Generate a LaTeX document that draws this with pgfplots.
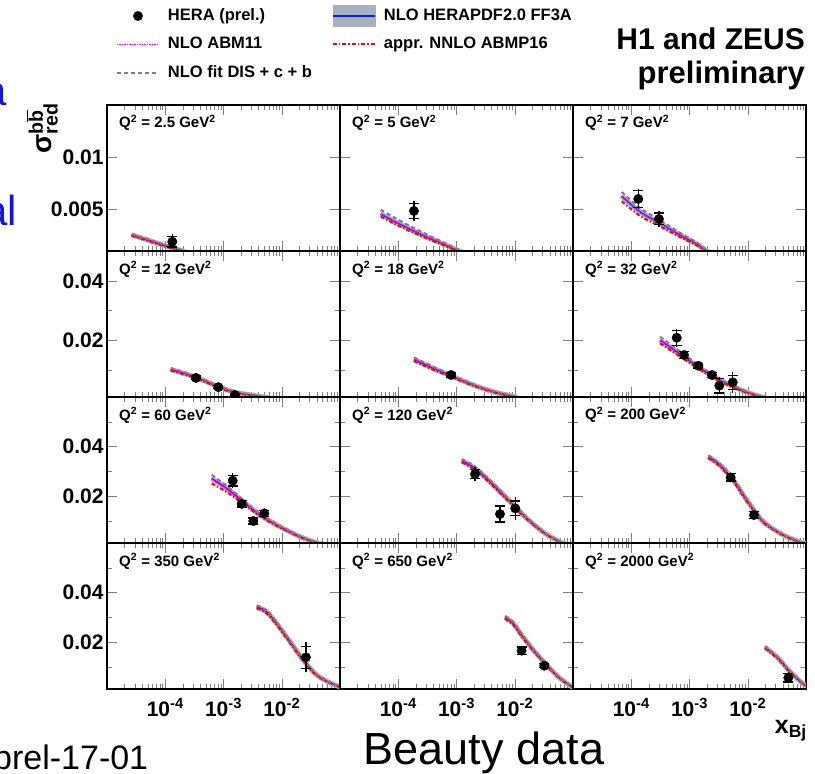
\documentclass[border=0pt]{standalone}
\usepackage{pgfplots}
\usepackage{pgfplotstable}
\pgfplotsset{compat=1.18}
\usepackage{fontspec}
\setmainfont{Liberation Sans}

\definecolor{bandgray}{RGB}{165,178,192}
\definecolor{herblue}{RGB}{20,20,255}
\definecolor{abmmag}{RGB}{255,0,255}
\definecolor{abmpred}{RGB}{255,0,0}
\definecolor{disbrown}{RGB}{150,115,100}
\definecolor{txtblue}{RGB}{20,20,220}

% theory: x, HERAPDF2.0 FF3A, ABM11, ABMP16, fit DIS+c+b
\pgfplotstableread{
x her abm abmp dis
2.65e-5 0.00255 0.00252 0.00247 0.00263
4.0e-5 0.00223 0.00220 0.00215 0.00231
6.4e-5 0.00186 0.00183 0.00178 0.00194
1.0e-4 0.00151 0.00148 0.00143 0.00159
1.6e-4 0.00116 0.00113 0.00108 0.00124
2.5e-4 0.00080 0.00077 0.00072 0.00088
}\thA
\pgfplotstableread{
x her abm abmp dis
5.0e-5 0.00455 0.00450 0.00429 0.00495
1.0e-4 0.00366 0.00362 0.00343 0.00400
1.81e-4 0.00295 0.00292 0.00276 0.00324
3.5e-4 0.00222 0.00220 0.00207 0.00244
6.36e-4 0.00160 0.00158 0.00150 0.00176
9.4e-4 0.00116 0.00114 0.00109 0.00128
1.5e-3 0.00075 0.00073 0.00070 0.00084
}\thB
\pgfplotstableread{
x her abm abmp dis
6.85e-5 0.00627 0.00620 0.00577 0.00667
1.41e-4 0.00477 0.00471 0.00437 0.00513
3.12e-4 0.00366 0.00361 0.00336 0.00396
6.87e-4 0.00253 0.00250 0.00233 0.00275
1.33e-3 0.00167 0.00165 0.00155 0.00182
1.85e-3 0.00110 0.00108 0.00102 0.00120
2.6e-3 0.00070 0.00068 0.00064 0.00078
}\thC
\pgfplotstableread{
x her abm abmp dis
1.24e-4 0.01030 0.01020 0.00990 0.01070
3.37e-4 0.00761 0.00753 0.00728 0.00795
8.15e-4 0.00446 0.00440 0.00420 0.00475
1.57e-3 0.00258 0.00254 0.00240 0.00280
3.27e-3 0.00157 0.00154 0.00146 0.00172
4.5e-3 0.00110 0.00108 0.00102 0.00122
6.0e-3 0.00070 0.00068 0.00064 0.00080
}\thD
\pgfplotstableread{
x her abm abmp dis
1.86e-4 0.01365 0.01350 0.01305 0.01425
4.0e-4 0.01063 0.01050 0.01013 0.01113
8.8e-4 0.00781 0.00772 0.00745 0.00816
1.94e-3 0.00503 0.00497 0.00478 0.00528
4.28e-3 0.00278 0.00274 0.00263 0.00295
8.9e-3 0.00130 0.00128 0.00122 0.00140
1.1e-2 0.00085 0.00083 0.00079 0.00093
}\thE
\pgfplotstableread{
x her abm abmp dis
3.12e-4 0.02010 0.01985 0.01900 0.02120
6.03e-4 0.01620 0.01600 0.01530 0.01710
1.16e-3 0.01230 0.01215 0.01165 0.01300
2.57e-3 0.00781 0.00771 0.00740 0.00830
5.65e-3 0.00446 0.00440 0.00422 0.00476
1.0e-2 0.00250 0.00246 0.00236 0.00270
1.62e-2 0.00120 0.00118 0.00112 0.00132
2.0e-2 0.00070 0.00068 0.00064 0.00078
}\thF
\pgfplotstableread{
x her abm abmp dis
6.26e-4 0.0271 0.0268 0.0251 0.0285
1.13e-3 0.0231 0.0228 0.0216 0.0242
2.19e-3 0.0177 0.0175 0.0169 0.0184
4.24e-3 0.0123 0.0121 0.0118 0.0128
9.3e-3 0.00759 0.00748 0.00730 0.00790
2.06e-2 0.00355 0.00349 0.00340 0.00375
3.98e-2 0.00110 0.00107 0.00104 0.00120
5.0e-2 0.00050 0.00048 0.00046 0.00058
}\thG
\pgfplotstableread{
x her abm abmp dis
1.23e-3 0.0343 0.0340 0.0336 0.0349
2.08e-3 0.0312 0.0309 0.0305 0.0318
3.76e-3 0.0258 0.0255 0.0252 0.0264
7.28e-3 0.0191 0.0189 0.0186 0.0196
1.6e-2 0.0110 0.0109 0.0107 0.0114
3.3e-2 0.00492 0.00485 0.00475 0.00515
6.4e-2 0.00110 0.00107 0.00104 0.00120
8.0e-2 0.00050 0.00048 0.00046 0.00058
}\thH
\pgfplotstableread{
x her abm abmp dis
2.1e-3 0.0359 0.0356 0.0353 0.0364
3.34e-3 0.0325 0.0322 0.0319 0.0330
5.65e-3 0.0265 0.0262 0.0259 0.0270
9.6e-3 0.0184 0.0182 0.0179 0.0188
1.85e-2 0.0096 0.0095 0.0093 0.0099
4.07e-2 0.00423 0.00418 0.00408 0.00440
8.4e-2 0.00110 0.00107 0.00104 0.00120
1.0e-1 0.00070 0.00068 0.00065 0.00078
}\thI
\pgfplotstableread{
x her abm abmp dis
3.72e-3 0.0343 0.0340 0.0336 0.0348
5.52e-3 0.0322 0.0319 0.0315 0.0327
8.18e-3 0.0275 0.0272 0.0269 0.0280
1.39e-2 0.0201 0.0199 0.0196 0.0205
2.34e-2 0.0127 0.0126 0.0123 0.0130
3.98e-2 0.00666 0.00658 0.00640 0.00690
6.73e-2 0.00355 0.00350 0.00340 0.00370
1.0e-1 0.00185 0.00182 0.00176 0.00195
}\thJ
\pgfplotstableread{
x her abm abmp dis
6.81e-3 0.0300 0.0297 0.0294 0.0305
9.44e-3 0.0275 0.0272 0.0269 0.0280
1.31e-2 0.0228 0.0226 0.0223 0.0232
2.08e-2 0.0168 0.0166 0.0164 0.0171
3.53e-2 0.0107 0.0106 0.0104 0.0110
5.98e-2 0.00532 0.00525 0.00510 0.00555
1.0e-1 0.00170 0.00167 0.00160 0.00180
}\thK
\pgfplotstableread{
x her abm abmp dis
1.98e-2 0.0179 0.0177 0.0175 0.0183
3.35e-2 0.0134 0.0132 0.0130 0.0137
5.31e-2 0.0080 0.0079 0.0077 0.0083
9.0e-2 0.00302 0.00297 0.00288 0.00320
1.0e-1 0.00250 0.00246 0.00238 0.00265
}\thL

% data: x, y, stat, total
\pgfplotstableread{
x y stat tot
1.32e-4 0.00189 0.0005 0.0007
}\meA
\pgfplotstableread{
x y stat tot
1.86e-4 0.00484 0.0007 0.0010
}\meB
\pgfplotstableread{
x y stat tot
1.32e-4 0.00599 0.0008 0.0010
2.99e-4 0.00407 0.00056 0.0008
}\meC
\pgfplotstableread{
x y stat tot
3.37e-4 0.0074 0.0006 0.0008
8.15e-4 0.0043 0.0005 0.0007
1.57e-3 0.00167 0.0005 0.0007
}\meD
\pgfplotstableread{
x y stat tot
8.06e-4 0.00838 0.0007 0.0009
}\meE
\pgfplotstableread{
x y stat tot
6.03e-4 0.0209 0.0025 0.0030
8.06e-4 0.0151 0.0012 0.0015
1.42e-3 0.0115 0.0008 0.0010
2.43e-3 0.00838 0.0008 0.0010
3.25e-3 0.0048 0.0025 0.0028
5.52e-3 0.00593 0.0024 0.0036
}\meF
\pgfplotstableread{
x y stat tot
1.44e-3 0.0262 0.0022 0.0030
2.05e-3 0.0168 0.0013 0.0016
3.25e-3 0.00989 0.0012 0.0014
5.02e-3 0.0130 0.0012 0.0014
}\meG
\pgfplotstableread{
x y stat tot
2.08e-3 0.0289 0.0019 0.0029
5.58e-3 0.0127 0.0032 0.0032
1.02e-2 0.0150 0.0030 0.0047
}\meH
\pgfplotstableread{
x y stat tot
5.09e-3 0.0275 0.0015 0.0018
1.28e-2 0.0123 0.0013 0.0015
}\meI
\pgfplotstableread{
x y stat tot
2.6e-2 0.0138 0.0045 0.0060
}\meJ
\pgfplotstableread{
x y stat tot
1.31e-2 0.0165 0.0015 0.0017
3.21e-2 0.0104 0.0008 0.0010
}\meK
\pgfplotstableread{
x y stat tot
4.97e-2 0.00557 0.0018 0.0022
}\meL

% settings shared by all twelve panels
\pgfplotsset{
  scale only axis, width=233pt, height=146pt,
  xmin=1e-5, xmax=1e-1,
  xtick={1e-5,1e-4,1e-3,1e-2,1e-1},
  minor xtick={2e-5,3e-5,4e-5,5e-5,6e-5,7e-5,8e-5,9e-5,
               2e-4,3e-4,4e-4,5e-4,6e-4,7e-4,8e-4,9e-4,
               2e-3,3e-3,4e-3,5e-3,6e-3,7e-3,8e-3,9e-3,
               2e-2,3e-2,4e-2,5e-2,6e-2,7e-2,8e-2,9e-2},
  xticklabels={}, yticklabels={}, scaled y ticks=false,
  tick align=inside, tick pos=both,
  major tick length=10pt, minor tick length=5pt,
  axis line style={line width=1.6pt},
  clip marker paths=true,
  x tick label style={font=\fontsize{21}{21}\selectfont\bfseries, anchor=base, yshift=-27pt},
  y tick label style={font=\fontsize{21}{21}\selectfont\bfseries},
}

\newcommand{\curves}[1]{%
  \addplot[bandgray, line width=5pt, smooth, no marks, forget plot] table[x=x, y=her]{#1};
  \addplot[herblue, line width=1.3pt, smooth, no marks, forget plot] table[x=x, y=her]{#1};
  \addplot[abmmag, line width=1.6pt, dash pattern=on 1.2pt off 1.3pt, smooth, no marks, forget plot] table[x=x, y=abm]{#1};
  \addplot[abmpred, line width=2pt, dash pattern=on 4pt off 2pt on 1.5pt off 2pt, smooth, no marks, forget plot] table[x=x, y=abmp]{#1};
  \addplot[disbrown, line width=2pt, dash pattern=on 4pt off 3pt, smooth, no marks, forget plot] table[x=x, y=dis]{#1};
}
\newcommand{\points}[1]{%
  \addplot[black, forget plot, only marks, mark=none,
    error bars/.cd, y dir=both, y explicit, error mark=none,
    error bar style={line width=1.3pt}]
    table[x=x, y=y, y error=tot]{#1};
  \addplot[black, forget plot, only marks, mark=*, mark size=4.7pt,
    error bars/.cd, y dir=both, y explicit,
    error bar style={line width=1.3pt},
    error mark options={rotate=90, line width=1.3pt, mark size=5pt}]
    table[x=x, y=y, y error=stat]{#1};
}
\newcommand{\qlab}[1]{%
  \node[anchor=base west, inner sep=0pt, font=\fontsize{15}{15}\selectfont\bfseries]
    at (rel axis cs:0.0515,0.8425) {Q\textsuperscript{2} = #1 GeV\textsuperscript{2}};
}

\begin{document}
\begin{tikzpicture}
\useasboundingbox (0,0) rectangle (815pt,-774pt);

% row 1
\begin{axis}[xmode=log, at={(107pt,-105pt)}, anchor=north west,
  ymin=0.001, ymax=0.015, ytick={0.005,0.01}, yticklabels={0.005,0.01},
  legend columns=2, legend cell align=left,
  legend style={at={(0.0386,1.661)}, anchor=north west, draw=none, fill=none,
    inner sep=0pt, outer sep=0pt, row sep=13.5pt,
    font=\fontsize{16.5}{16.5}\selectfont\bfseries,
    nodes={inner sep=0pt, text height=12pt, text depth=3pt},
    /tikz/every odd column/.append style={column sep=8pt},
    /tikz/every even column/.append style={column sep=20pt}}]
\addlegendimage{legend image code/.code={%
  \fill[black] (21pt,0pt) circle[radius=4.7pt];}}
\addlegendentry{HERA (prel.)}
\addlegendimage{legend image code/.code={%
  \fill[bandgray, overlay] (0pt,-10.5pt) rectangle (42pt,10.5pt);
  \draw[herblue, line width=1.3pt] (0pt,0pt) -- (42pt,0pt);}}
\addlegendentry{NLO HERAPDF2.0 FF3A}
\addlegendimage{legend image code/.code={%
  \draw[abmmag, line width=1.6pt, dash pattern=on 1.2pt off 1.3pt] (0pt,0pt) -- (42pt,0pt);}}
\addlegendentry{NLO ABM11}
\addlegendimage{legend image code/.code={%
  \draw[abmpred, line width=2pt, dash pattern=on 4pt off 2pt on 1.5pt off 2pt] (0pt,0pt) -- (42pt,0pt);}}
\addlegendentry{appr. NNLO ABMP16}
\addlegendimage{legend image code/.code={%
  \draw[disbrown, line width=2pt, dash pattern=on 4pt off 3pt] (0pt,0pt) -- (42pt,0pt);}}
\addlegendentry{NLO fit DIS + c + b}
\curves{\thA}
\points{\meA}
\qlab{2.5}
\end{axis}
\begin{axis}[xmode=log, at={(340pt,-105pt)}, anchor=north west,
  ymin=0.001, ymax=0.015, ytick={0.005,0.01}]
\curves{\thB}
\points{\meB}
\qlab{5}
\end{axis}
\begin{axis}[xmode=log, at={(573pt,-105pt)}, anchor=north west,
  ymin=0.001, ymax=0.015, ytick={0.005,0.01}]
\curves{\thC}
\points{\meC}
\qlab{7}
\end{axis}

% row 2
\begin{axis}[xmode=log, at={(107pt,-251pt)}, anchor=north west,
  ymin=0.001, ymax=0.05, ytick={0.02,0.04}, minor ytick={0.01,0.03}, yticklabels={0.02,0.04}]
\curves{\thD}
\points{\meD}
\qlab{12}
\end{axis}
\begin{axis}[xmode=log, at={(340pt,-251pt)}, anchor=north west,
  ymin=0.001, ymax=0.05, ytick={0.02,0.04}, minor ytick={0.01,0.03}]
\curves{\thE}
\points{\meE}
\qlab{18}
\end{axis}
\begin{axis}[xmode=log, at={(573pt,-251pt)}, anchor=north west,
  ymin=0.001, ymax=0.05, ytick={0.02,0.04}, minor ytick={0.01,0.03}]
\curves{\thF}
\points{\meF}
\qlab{32}
\end{axis}

% row 3
\begin{axis}[xmode=log, at={(107pt,-397pt)}, anchor=north west,
  ymin=0.001, ymax=0.06, ytick={0.02,0.04}, minor ytick={0.01,0.03,0.05}, yticklabels={0.02,0.04}]
\curves{\thG}
\points{\meG}
\qlab{60}
\end{axis}
\begin{axis}[xmode=log, at={(340pt,-397pt)}, anchor=north west,
  ymin=0.001, ymax=0.06, ytick={0.02,0.04}, minor ytick={0.01,0.03,0.05}]
\curves{\thH}
\points{\meH}
\qlab{120}
\end{axis}
\begin{axis}[xmode=log, at={(573pt,-397pt)}, anchor=north west,
  ymin=0.001, ymax=0.06, ytick={0.02,0.04}, minor ytick={0.01,0.03,0.05}]
\curves{\thI}
\points{\meI}
\qlab{200}
\end{axis}

% row 4
\begin{axis}[xmode=log, at={(107pt,-543pt)}, anchor=north west,
  ymin=0.001, ymax=0.06, ytick={0.02,0.04}, minor ytick={0.01,0.03,0.05}, yticklabels={0.02,0.04},
  xticklabels={,10\textsuperscript{-4},10\textsuperscript{-3},10\textsuperscript{-2},}]
\curves{\thJ}
\points{\meJ}
\qlab{350}
\end{axis}
\begin{axis}[xmode=log, at={(340pt,-543pt)}, anchor=north west,
  ymin=0.001, ymax=0.06, ytick={0.02,0.04}, minor ytick={0.01,0.03,0.05},
  xticklabels={,10\textsuperscript{-4},10\textsuperscript{-3},10\textsuperscript{-2},}]
\curves{\thK}
\points{\meK}
\qlab{650}
\end{axis}
\begin{axis}[xmode=log, at={(573pt,-543pt)}, anchor=north west,
  ymin=0.001, ymax=0.06, ytick={0.02,0.04}, minor ytick={0.01,0.03,0.05},
  xticklabels={,10\textsuperscript{-4},10\textsuperscript{-3},10\textsuperscript{-2},}]
\curves{\thL}
\points{\meL}
\qlab{2000}
\end{axis}

% texts around the grid
\node[anchor=south east, rotate=90, inner sep=0pt, font=\fontsize{28}{28}\selectfont\bfseries]
  at (58pt,-103pt) {σ\rlap{\textsuperscript{b$\overline{\mbox{b}}$}}\textsubscript{red}};
\node[anchor=base east, inner sep=0pt, font=\fontsize{25}{25}\selectfont\bfseries]
  at (807pt,-733pt) {x\textsubscript{Bj}};
\node[anchor=base east, inner sep=0pt, font=\fontsize{30}{30}\selectfont\bfseries]
  at (805pt,-49pt) {H1 and ZEUS};
\node[anchor=base east, inner sep=0pt, font=\fontsize{31}{31}\selectfont\bfseries]
  at (805pt,-83pt) {preliminary};
\node[anchor=base, inner sep=0pt, font=\fontsize{45}{45}\selectfont]
  at (484pt,-764pt) {Beauty data};
\node[anchor=base west, inner sep=0pt, font=\fontsize{34}{34}\selectfont]
  at (-7pt,-769pt) {prel-17-01};
\node[anchor=base east, inner sep=0pt, txtblue, font=\fontsize{42}{42}\selectfont]
  at (7pt,-105pt) {a};
\node[anchor=base east, inner sep=0pt, txtblue, font=\fontsize{42}{42}\selectfont]
  at (17pt,-225pt) {al};
\end{tikzpicture}
\end{document}
